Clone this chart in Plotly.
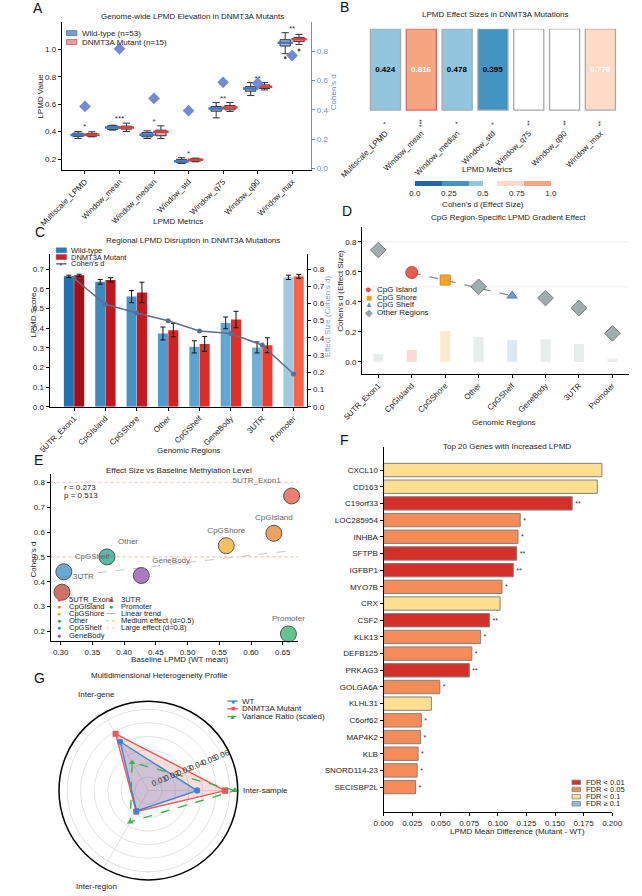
import numpy as np
import plotly.graph_objects as go

W, H = 642, 896
FONT = "Liberation Sans, Arial, sans-serif"


def px(x):
    return x / W


def py(y):
    return 1 - y / H


# ---------------- DATA ----------------
# Panel A
metrics = ["Multiscale_LPMD", "Window_mean", "Window_median", "Window_std",
           "Window_q75", "Window_q90", "Window_max"]
wt_q1 = [0.365, 0.416, 0.362, 0.173, 0.549, 0.695, 1.024]
wt_med = [0.375, 0.430, 0.377, 0.185, 0.568, 0.714, 1.048]
wt_q3 = [0.389, 0.442, 0.394, 0.198, 0.583, 0.728, 1.070]
wt_lo = [0.350, 0.411, 0.350, 0.168, 0.500, 0.663, 0.968]
wt_hi = [0.401, 0.447, 0.406, 0.210, 0.612, 0.758, 1.121]
mut_q1 = [0.367, 0.418, 0.370, 0.185, 0.559, 0.714, 1.056]
mut_med = [0.377, 0.430, 0.399, 0.195, 0.576, 0.728, 1.073]
mut_q3 = [0.387, 0.440, 0.411, 0.202, 0.590, 0.741, 1.087]
mut_lo = [0.362, 0.401, 0.350, 0.180, 0.547, 0.704, 1.036]
mut_hi = [0.399, 0.462, 0.442, 0.207, 0.612, 0.758, 1.109]
wt_flier_metric = ["Window_max"]
wt_flier_val = [0.939]
mut_flier_metric = ["Window_max"]
mut_flier_val = [0.995]
metric_d = [0.424, 0.816, 0.478, 0.395, 0.588, 0.582, 0.770]
metric_sig = ["*", "***", "*", "*", "**", "**", "**"]

# Panels C / D / E
regions = ["5UTR_Exon1", "CpGIsland", "CpGShore", "Other", "CpGShelf",
           "GeneBody", "3UTR", "Promoter"]
reg_wt = [0.664, 0.636, 0.561, 0.373, 0.305, 0.427, 0.302, 0.659]
reg_wt_err = [0.006, 0.012, 0.031, 0.033, 0.031, 0.030, 0.028, 0.011]
reg_mut = [0.670, 0.646, 0.582, 0.390, 0.320, 0.444, 0.313, 0.664]
reg_mut_err = [0.005, 0.011, 0.052, 0.034, 0.038, 0.042, 0.038, 0.010]
reg_d = [0.745, 0.595, 0.545, 0.500, 0.440, 0.425, 0.358, 0.190]
reg_type = ["Other Regions", "CpG Island", "CpG Shore", "Other Regions",
            "CpG Shelf", "Other Regions", "Other Regions", "Other Regions"]
reg_bar = [0.053, 0.079, 0.205, 0.167, 0.145, 0.150, 0.119, 0.022]
effect_thresholds = [0.5, 0.8]
corr_r_text = "r = 0.273"
corr_p_text = "p = 0.513"

# Panel F
genes = ["CXCL10", "CD163", "C19orf33", "LOC285954", "INHBA", "SFTPB", "IGFBP1",
         "MYO7B", "CRX", "CSF2", "KLK13", "DEFB125", "PRKAG3", "GOLGA6A", "KLHL31",
         "C6orf62", "MAP4K2", "KLB", "SNORD114-23", "SECISBP2L"]
gene_diff = [0.191, 0.187, 0.165, 0.1195, 0.1176, 0.1165, 0.1135, 0.1036, 0.1019,
             0.0926, 0.0849, 0.0772, 0.0750, 0.0492, 0.0418, 0.0330, 0.0324,
             0.0302, 0.0294, 0.0280]
gene_fdr = ["FDR < 0.1", "FDR < 0.1", "FDR < 0.01", "FDR < 0.05", "FDR < 0.05",
            "FDR < 0.01", "FDR < 0.01", "FDR < 0.05", "FDR < 0.1", "FDR < 0.01",
            "FDR < 0.05", "FDR < 0.05", "FDR < 0.01", "FDR < 0.05", "FDR < 0.1",
            "FDR < 0.05", "FDR < 0.05", "FDR < 0.05", "FDR < 0.05", "FDR < 0.05"]
fdr_levels = ["FDR < 0.01", "FDR < 0.05", "FDR < 0.1", "FDR \u2265 0.1"]

# Panel G
dims = ["Inter-sample", "Inter-gene", "Inter-region"]
g_wt = [0.0360, 0.0416, 0.0174]
g_mut = [0.0567, 0.0484, 0.0180]
g_vr = [0.0640, 0.0240, 0.0267]

# ---------------- STYLES ----------------
BLUE_D = "#7189d9"
fdr_colors = {"FDR < 0.01": "#d3302a", "FDR < 0.05": "#f58b56",
              "FDR < 0.1": "#fddf8f", "FDR \u2265 0.1": "#8fbfdc"}
fdr_stars = {"FDR < 0.01": "**", "FDR < 0.05": "*", "FDR < 0.1": "", "FDR \u2265 0.1": ""}
type_color = {"CpG Island": "#e74c3c", "CpG Shore": "#f39c12",
              "CpG Shelf": "#5b8ed6", "Other Regions": "#95a5a6"}
type_symbol = {"CpG Island": "circle", "CpG Shore": "square",
               "CpG Shelf": "triangle-up", "Other Regions": "diamond"}
type_size = {"CpG Island": 12, "CpG Shore": 10, "CpG Shelf": 9, "Other Regions": 12}
type_edge = {"CpG Island": "#b03a2e", "CpG Shore": "#c97f0a",
             "CpG Shelf": "#3d6fb8", "Other Regions": "#6b6b6b"}
region_colors = {"5UTR_Exon1": "#e74c3c", "CpGIsland": "#e67e22", "CpGShore": "#f5a623",
                 "Other": "#16a085", "CpGShelf": "#2e86c1", "GeneBody": "#8e44ad",
                 "3UTR": "#c0392b", "Promoter": "#27ae60"}
region_textpos = {"5UTR_Exon1": "top left", "CpGIsland": "top center",
                  "CpGShore": "top center", "Other": "top right",
                  "CpGShelf": "top right", "GeneBody": "top right",
                  "3UTR": "top right", "Promoter": "top center"}
d_scale = [[0.0, "#2166ac"], [0.2, "#2166ac"], [0.2, "#4393c3"], [0.4, "#4393c3"],
           [0.4, "#92c5de"], [0.5, "#92c5de"], [0.5, "#ffffff"], [0.6, "#ffffff"],
           [0.6, "#fddbc7"], [0.8, "#fddbc7"], [0.8, "#f4a582"], [1.0, "#f4a582"]]


def rgba(hexc, a):
    h = hexc.lstrip("#")
    return "rgba(%d,%d,%d,%.2f)" % (int(h[0:2], 16), int(h[2:4], 16), int(h[4:6], 16), a)


fig = go.Figure()
annotations = []
shapes = []


def ann(x, y, text, size=8, color="#222", xanchor="center", yanchor="middle", angle=0):
    annotations.append(dict(x=px(x), y=py(y), xref="paper", yref="paper", text=text,
                            showarrow=False, font=dict(size=size, color=color, family=FONT),
                            xanchor=xanchor, yanchor=yanchor, textangle=angle, borderpad=0))


def rect(x0, y0, x1, y1, fill, line, lw=0.8):
    shapes.append(dict(type="rect", xref="paper", yref="paper", x0=px(x0), x1=px(x1),
                       y0=py(y1), y1=py(y0), fillcolor=fill, line=dict(color=line, width=lw),
                       layer="above"))


def seg(x0, x1, y, color, width=1.2, dash="solid"):
    shapes.append(dict(type="line", xref="paper", yref="paper", x0=px(x0), x1=px(x1),
                       y0=py(y), y1=py(y), line=dict(color=color, width=width, dash=dash),
                       layer="above"))


# ---------------- PANEL A ----------------
posA = np.arange(len(metrics))
for offs, q1, med, q3, lo, hi, fill, medc in [
        (-0.2, wt_q1, wt_med, wt_q3, wt_lo, wt_hi, "#a3b5ca", "#3b78d0"),
        (0.2, mut_q1, mut_med, mut_q3, mut_lo, mut_hi, "#d6aeae", "#d9403c")]:
    xs = list(posA + offs)
    fig.add_trace(go.Box(x=xs, q1=q1, median=med, q3=q3, lowerfence=lo, upperfence=hi,
                         width=0.3, whiskerwidth=0.7, fillcolor=fill,
                         line=dict(color="#333333", width=1), boxpoints=False,
                         xaxis="x", yaxis="y", showlegend=False, hoverinfo="skip"))
    fig.add_trace(go.Scatter(x=xs, y=med, mode="markers", xaxis="x", yaxis="y",
                             marker=dict(symbol="line-ew", size=11,
                                         line=dict(color=medc, width=2.5)),
                             showlegend=False, hoverinfo="skip"))
fig.add_trace(go.Scatter(x=[metrics.index(m) - 0.2 for m in wt_flier_metric], y=wt_flier_val,
                         mode="markers", marker=dict(size=3, color="#555"),
                         xaxis="x", yaxis="y", showlegend=False))
fig.add_trace(go.Scatter(x=[metrics.index(m) + 0.2 for m in mut_flier_metric], y=mut_flier_val,
                         mode="markers", marker=dict(size=3, color="#555"),
                         xaxis="x", yaxis="y", showlegend=False))
fig.add_trace(go.Scatter(x=list(posA), y=[max(a, b) for a, b in zip(wt_hi, mut_hi)],
                         mode="text", text=metric_sig, textposition="top center",
                         textfont=dict(size=8, color="#333"), xaxis="x", yaxis="y",
                         showlegend=False, cliponaxis=False))
fig.add_trace(go.Scatter(x=list(posA), y=metric_d, mode="markers", xaxis="x", yaxis="y2",
                         marker=dict(symbol="diamond", size=9, color=BLUE_D),
                         showlegend=False))

# ---------------- PANEL B ----------------
outline = ["#e06666" if v == max(metric_d) else "#a8a8a8" for v in metric_d]
txtcol = ["white" if v > 0.5 else "black" for v in metric_d]
fig.add_trace(go.Bar(
    x=list(posA), y=[1] * len(metrics), width=0.84, xaxis="x2", yaxis="y3",
    marker=dict(color=metric_d, colorscale=d_scale, cmin=0, cmax=1,
                line=dict(color=outline, width=1.3), showscale=True,
                colorbar=dict(orientation="h", x=px(484.5), xanchor="center",
                              y=py(182), yanchor="top", len=px(145), lenmode="fraction",
                              thickness=5, outlinewidth=0, xpad=0, ypad=0,
                              tickvals=[0, 0.25, 0.5, 0.75, 1.0],
                              ticktext=["0.0", "0.25", "0.5", "0.75", "1.0"],
                              tickfont=dict(size=8, family=FONT), ticks="",
                              title=dict(text="Cohen's d (Effect Size)", side="bottom",
                                         font=dict(size=8, family=FONT)))),
    text=["<b>%.3f</b>" % v for v in metric_d], textposition="inside",
    insidetextanchor="middle", textangle=0,
    textfont=dict(size=8, color=txtcol, family=FONT), showlegend=False, hoverinfo="skip"))
for i, s in enumerate(metric_sig):
    annotations.append(dict(x=i, y=-0.16, xref="x2", yref="y3", text=s, showarrow=False,
                            textangle=-90, font=dict(size=7, color="#333", family=FONT)))

# ---------------- PANEL C ----------------
posR = np.arange(len(regions))
fig.add_trace(go.Bar(x=list(posR - 0.165), y=reg_wt, width=0.32, xaxis="x3", yaxis="y4",
                     marker=dict(color=reg_d, colorscale="Blues", cmin=-0.36, cmax=1.106,
                                 line=dict(width=0)),
                     error_y=dict(type="data", array=reg_wt_err, color="#111", thickness=1,
                                  width=2.5),
                     showlegend=False))
fig.add_trace(go.Bar(x=list(posR + 0.165), y=reg_mut, width=0.32, xaxis="x3", yaxis="y4",
                     marker=dict(color=reg_d, colorscale="Reds", cmin=-0.616, cmax=0.934,
                                 line=dict(width=0)),
                     error_y=dict(type="data", array=reg_mut_err, color="#111", thickness=1,
                                  width=2.5),
                     showlegend=False))
fig.add_trace(go.Scatter(x=list(posR), y=reg_d, mode="lines+markers", xaxis="x3", yaxis="y5",
                         line=dict(color="#5d6e8c", width=1.5),
                         marker=dict(size=5, color="#5d6e8c"), showlegend=False))

# ---------------- PANEL D ----------------
fig.add_trace(go.Bar(x=list(posR), y=reg_bar, width=0.3, xaxis="x4", yaxis="y6",
                     marker=dict(color=[type_color[t] for t in reg_type], line=dict(width=0)),
                     opacity=0.2, showlegend=False))
cpg_idx = [i for i, t in enumerate(reg_type) if t != "Other Regions"]
fig.add_trace(go.Scatter(x=cpg_idx, y=[reg_d[i] for i in cpg_idx], mode="lines",
                         xaxis="x4", yaxis="y6",
                         line=dict(color="#8c8c8c", width=1.3, dash="dash"), showlegend=False))
for t in ["Other Regions", "CpG Island", "CpG Shore", "CpG Shelf"]:
    idx = [i for i, tt in enumerate(reg_type) if tt == t]
    fig.add_trace(go.Scatter(x=idx, y=[reg_d[i] for i in idx], mode="markers",
                             xaxis="x4", yaxis="y6",
                             marker=dict(symbol=type_symbol[t], size=type_size[t],
                                         color=type_color[t], opacity=0.9,
                                         line=dict(color=type_edge[t], width=1)),
                             showlegend=False))
for thr in effect_thresholds:
    shapes.append(dict(type="line", xref="x4 domain", yref="y6", x0=0, x1=1, y0=thr, y1=thr,
                       line=dict(color="#efefef", width=1), layer="below"))

# ---------------- PANEL E ----------------
for thr, col in zip(effect_thresholds, ["#f6b18f", "#f7c0b2"]):
    shapes.append(dict(type="line", xref="x5 domain", yref="y7", x0=0, x1=1, y0=thr, y1=thr,
                       line=dict(color=col, width=1, dash="dot"), layer="below"))
slope, icpt = np.polyfit(reg_wt, reg_d, 1)
xfit = [min(reg_wt), max(reg_wt)]
fig.add_trace(go.Scatter(x=xfit, y=[slope * v + icpt for v in xfit], mode="lines",
                         xaxis="x5", yaxis="y7",
                         line=dict(color="#c4c4c4", width=1, dash="dash"), showlegend=False))
for i, r in enumerate(regions):
    fig.add_trace(go.Scatter(x=[reg_wt[i]], y=[reg_d[i]], mode="markers+text",
                             text=[r], textposition=region_textpos[r],
                             textfont=dict(size=8, color="#666", family=FONT),
                             xaxis="x5", yaxis="y7", cliponaxis=False,
                             marker=dict(size=16, color=rgba(region_colors[r], 0.72),
                                         line=dict(color="#555", width=1)),
                             showlegend=False))

# ---------------- PANEL F ----------------
gidx = list(range(len(genes)))
fig.add_trace(go.Bar(y=gidx, x=gene_diff, orientation="h", width=0.8, xaxis="x6", yaxis="y8",
                     marker=dict(color=[fdr_colors[f] for f in gene_fdr],
                                 line=dict(color="#808080", width=1)),
                     text=[fdr_stars[f] for f in gene_fdr], textposition="outside",
                     textfont=dict(size=7, color="#333", family=FONT), cliponaxis=False,
                     showlegend=False))

# ---------------- PANEL G ----------------
for vals, col, sym, fillc, dash in [
        (g_mut, "#f05555", "square", "rgba(240,100,90,0.22)", "solid"),
        (g_wt, "#3a86d4", "circle", "rgba(70,110,200,0.25)", "solid"),
        (g_vr, "#3cb44b", "triangle-up", None, "dash")]:
    fig.add_trace(go.Scatterpolar(r=vals + [vals[0]], theta=dims + [dims[0]],
                                  mode="lines+markers",
                                  fill="toself" if fillc else "none",
                                  fillcolor=fillc,
                                  line=dict(color=col, width=1.4, dash=dash),
                                  marker=dict(symbol=sym, size=6, color=col),
                                  showlegend=False))
# polar geometry (pixels) used for the category labels
G_X0, G_X1, G_Y0, G_Y1 = 34, 224, 700, 890
g_cx, g_cy, g_R = (G_X0 + G_X1) / 2, (G_Y0 + G_Y1) / 2, (G_X1 - G_X0) / 2

# ---------------- LAYOUT ----------------
ax_common = dict(showgrid=False, zeroline=False, showline=True, linecolor="black",
                 linewidth=1, ticks="outside", ticklen=3, tickcolor="black",
                 tickfont=dict(size=8, family=FONT, color="#222"))

layout = dict(
    width=W, height=H, margin=dict(l=0, r=0, t=0, b=0),
    paper_bgcolor="white", plot_bgcolor="white", showlegend=False, hovermode=False,
    font=dict(family=FONT, size=8, color="#222"),
    # A
    xaxis=dict(ax_common, domain=[px(37), px(302)], range=[-0.67, 6.55], anchor="y",
               tickvals=list(posA), ticktext=metrics, tickangle=-45),
    yaxis=dict(ax_common, domain=[py(171), py(22)], range=[0.12, 1.2], anchor="x",
               tickvals=[0.2, 0.4, 0.6, 0.8, 1.0], tickformat=".1f"),
    yaxis2=dict(ax_common, overlaying="y", side="right", anchor="x", range=[-0.01, 1.0],
                tickvals=[0, 0.2, 0.4, 0.6, 0.8], tickformat=".1f", linecolor=BLUE_D,
                tickcolor=BLUE_D, tickfont=dict(size=8, family=FONT, color=BLUE_D)),
    # B
    xaxis2=dict(domain=[px(362), px(628.5)], range=[-0.5, 6.5], anchor="y3",
                tickvals=list(posA), ticktext=metrics, tickangle=-45, showgrid=False,
                zeroline=False, showline=False, ticks="",
                tickfont=dict(size=8, family=FONT, color="#222")),
    yaxis3=dict(domain=[py(127), py(29)], range=[-0.2, 1.0], anchor="x2", visible=False),
    # C
    xaxis3=dict(ax_common, domain=[px(24), px(298)], range=[-0.78, 7.44], anchor="y4",
                tickvals=list(posR), ticktext=regions, tickangle=-45),
    yaxis4=dict(ax_common, domain=[py(409), py(255)], range=[0, 0.78], anchor="x3",
                tickvals=[0, 0.1, 0.2, 0.3, 0.4, 0.5, 0.6, 0.7], tickformat=".1f"),
    yaxis5=dict(ax_common, overlaying="y4", side="right", anchor="x3", range=[0, 0.89],
                tickvals=[0, 0.1, 0.2, 0.3, 0.4, 0.5, 0.6, 0.7, 0.8], tickformat=".1f"),
    # D
    xaxis4=dict(ax_common, domain=[px(356), px(640)], range=[-0.49, 7.5], anchor="y6",
                tickvals=list(posR), ticktext=regions, tickangle=-45),
    yaxis6=dict(ax_common, domain=[py(376), py(228)], range=[-0.08, 0.9], anchor="x4",
                tickvals=[0, 0.2, 0.4, 0.6, 0.8], tickformat=".1f"),
    # E
    xaxis5=dict(ax_common, domain=[px(25), px(288)], range=[0.284, 0.674], anchor="y7",
                tickvals=[0.30, 0.35, 0.40, 0.45, 0.50, 0.55, 0.60, 0.65], tickformat=".2f"),
    yaxis7=dict(ax_common, domain=[py(645), py(477)], range=[0.16, 0.832], anchor="x5",
                tickvals=[0.2, 0.3, 0.4, 0.5, 0.6, 0.7, 0.8], tickformat=".1f"),
    # F
    xaxis6=dict(ax_common, domain=[px(379), px(622)], range=[0, 0.2], anchor="y8",
                tickvals=[0, 0.025, 0.05, 0.075, 0.1, 0.125, 0.15, 0.175, 0.2],
                tickformat=".3f"),
    yaxis8=dict(ax_common, domain=[py(816.7), py(450)], range=[20.5, -1.35], anchor="x6",
                tickvals=gidx, ticktext=genes),
    # G
    polar=dict(domain=dict(x=[px(G_X0), px(G_X1)], y=[py(G_Y1), py(G_Y0)]), bgcolor="white",
               radialaxis=dict(range=[0, 0.066], tickvals=[0.01, 0.02, 0.03, 0.04, 0.05, 0.06],
                               angle=22.5, tickangle=0, side="counterclockwise",
                               showline=False, ticks="", gridcolor="#e2e2e2",
                               tickfont=dict(size=8, family=FONT, color="#333")),
               angularaxis=dict(rotation=0, direction="counterclockwise", showline=True,
                                linecolor="black", linewidth=1.5, gridcolor="#e2e2e2",
                                ticks="", showticklabels=False)),
)

# ---------------- TEXT: titles, axis titles, panel letters ----------------
for L, x, y in [("A", 12, 8), ("B", 338, 7), ("C", 14, 233), ("D", 340, 212),
                ("E", 12, 463), ("F", 338, 442), ("G", 13, 682)]:
    ann(x, y, L, size=14, color="#111")

ann(176, 17, "Genome-wide LPMD Elevation in DNMT3A Mutants")
ann(498, 15, "LPMD Effect Sizes in DNMT3A Mutations")
ann(176, 242, "Regional LPMD Disruption in DNMT3A Mutations")
ann(512, 219, "CpG Region-Specific LPMD Gradient Effect")
ann(162, 473, "Effect Size vs Baseline Methylation Level")
ann(510, 449, "Top 20 Genes with Increased LPMD")
ann(141, 679, "Multidimensional Heterogeneity Profile")

ann(160, 223, "LPMD Metrics")
ann(14, 97, "LPMD Value", angle=-90)
ann(326, 93, "Cohen's d", color=BLUE_D, angle=-90)
ann(489, 170, "LPMD Metrics")
ann(7, 317, "LPMD Score", angle=-90)
ann(319, 318, "Effect Size (Cohen's d)", color="#7f9ccc", angle=-90)
ann(172, 453, "Genomic Regions")
ann(333, 292, "Cohen's d (Effect Size)", angle=-90)
ann(507, 425, "Genomic Regions")
ann(7, 563, "Cohen's d", angle=-90)
ann(163, 663, "Baseline LPMD (WT mean)")
ann(521, 836, "LPMD Mean Difference (Mutant - WT)")
ann(38, 490, corr_r_text, xanchor="left")
ann(38, 498, corr_p_text, xanchor="left")

# polar category labels (placed around the circle like matplotlib does)
for k, dname in enumerate(dims):
    ang = np.deg2rad(360.0 * k / len(dims))
    if k == 0:
        ann(g_cx + g_R + 5, g_cy, dname, xanchor="left")
    else:
        dist = g_R + 16
        ann(g_cx + dist * np.cos(ang), g_cy - dist * np.sin(ang), dname)

# ---------------- Custom legends ----------------
# A
for k, (fill, edge, lab) in enumerate([("#6fa3dc", "#55708f", "Wild-type (n=53)"),
                                       ("#f29c9c", "#a86464", "DNMT3A Mutant (n=15)")]):
    y = 33.3 + 9 * k
    rect(42, y - 2.5, 53, y + 2.5, fill, edge)
    ann(57, y, lab, xanchor="left")
# C
for k, (fill, lab) in enumerate([("#2b7bba", "Wild-type"), ("#c0272d", "DNMT3A Mutant")]):
    y = 251.7 + 6.8 * k
    rect(31, y - 2.5, 42, y + 2.5, fill, fill, 0.5)
    ann(46, y, lab, size=7.5, xanchor="left")
seg(31, 42, 265.3, "#5d6e8c", 1.5)
ann(36.5, 265.3, "\u25cf", size=6, color="#5d6e8c")
ann(46, 265.3, "Cohen's d", size=7.5, xanchor="left")
# D
for k, (t, g, gs) in enumerate([("CpG Island", "\u25cf", 11), ("CpG Shore", "\u25a0", 10),
                                 ("CpG Shelf", "\u25b2", 8), ("Other Regions", "\u25c6", 10)]):
    y = 291 + 7.7 * k
    ann(363.3, y, g, size=gs, color=type_color[t])
    ann(371, y, t, xanchor="left")
# E
for k, r in enumerate(regions):
    col = 0 if k < 6 else 1
    row = k if k < 6 else k - 6
    y = 602.7 + 7.2 * row
    gx = 34.3 if col == 0 else 89.3
    tx = 44 if col == 0 else 99
    ann(gx, y, "\u25cf", size=7, color=region_colors[r])
    ann(tx, y, r, size=7.5, xanchor="left")
for k, (lab, col, dash) in enumerate([("Linear trend", "#b0b0b0", "dash"),
                                      ("Medium effect (d=0.5)", "#f6b18f", "dot"),
                                      ("Large effect (d=0.8)", "#f7c0b2", "dot")]):
    y = 602.7 + 7.2 * (k + 2)
    seg(84, 95, y, col, 1, dash)
    ann(99, y, lab, size=7.5, xanchor="left")
# F
for k, lev in enumerate(fdr_levels):
    y = 786.7 + 7.2 * k
    rect(579.3, y - 2.2, 588.3, y + 2.2, fdr_colors[lev], "#808080", 0.8)
    ann(592.7, y, lev, size=7.5, xanchor="left")
# G
for k, (lab, col, g, dash) in enumerate([("WT", "#3a86d4", "\u25cf", "solid"),
                                         ("DNMT3A Mutant", "#f05555", "\u25a0", "solid"),
                                         ("Variance Ratio (scaled)", "#3cb44b", "\u25b2", "dash")]):
    y = 705 + 7.8 * k
    seg(213, 224, y, col, 1.3, dash)
    ann(218.5, y, g, size=7, color=col)
    ann(227, y, lab, xanchor="left")

layout["annotations"] = annotations
layout["shapes"] = shapes
fig.update_layout(**layout)
fig.write_html("out.html")
